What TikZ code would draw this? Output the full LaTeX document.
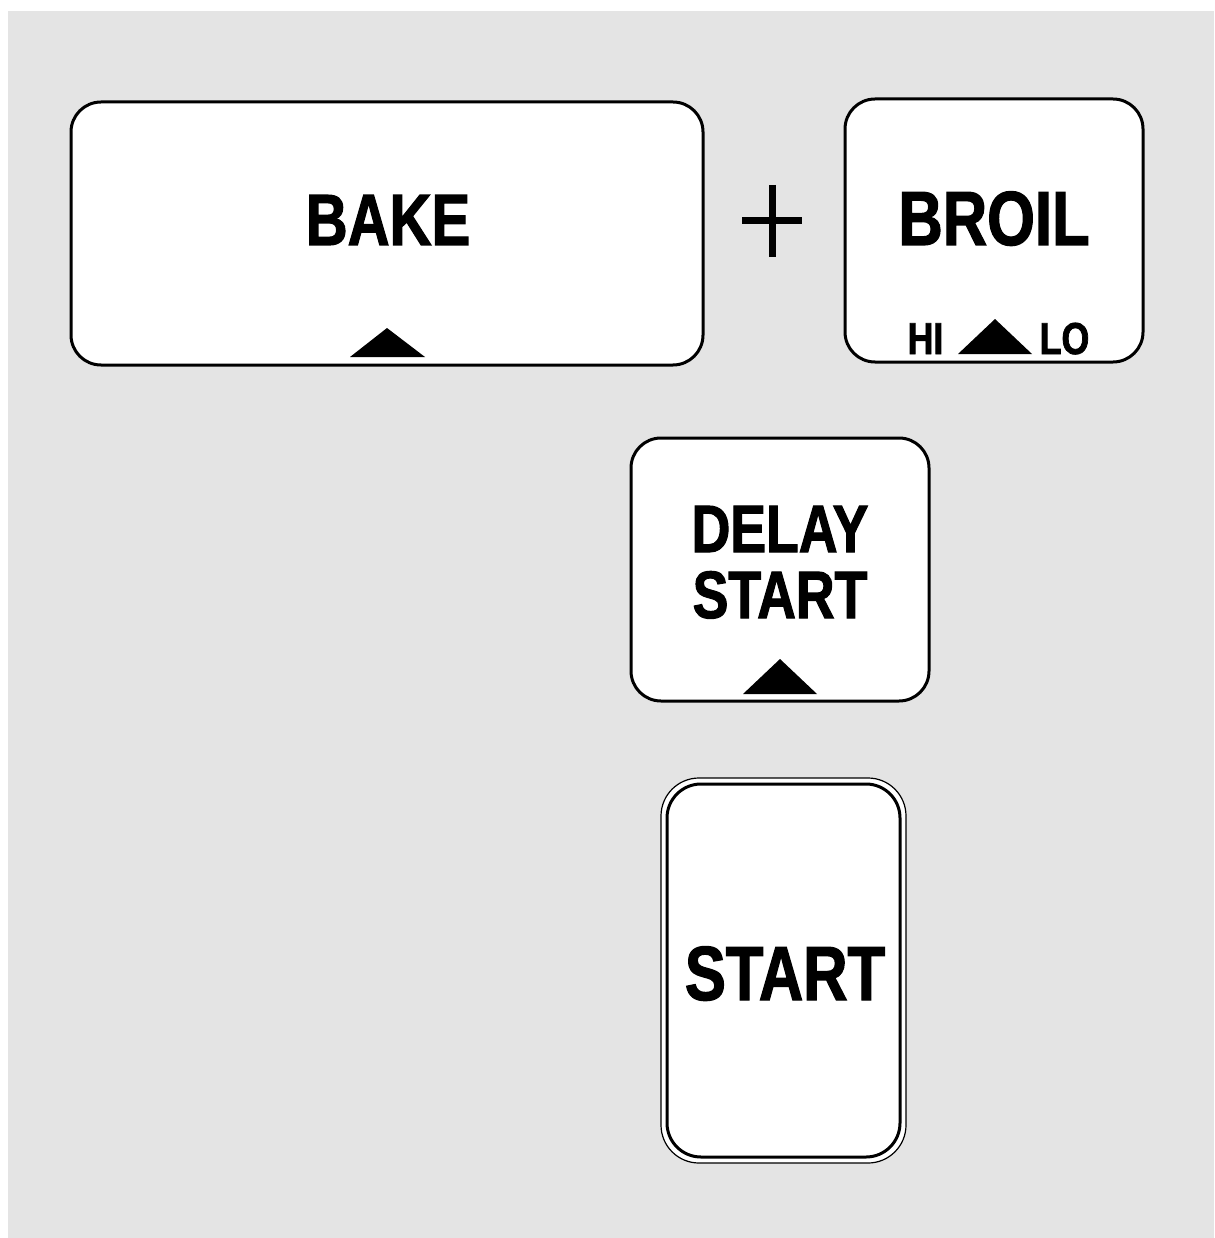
\documentclass[tikz,border=0pt]{standalone}
\usepackage{fontspec}
\setmainfont{Liberation Sans}[FakeStretch=0.8, BoldFeatures={FakeBold=1.6}]
\definecolor{bggray}{HTML}{E4E4E4}
\begin{document}
\begin{tikzpicture}[x=1pt,y=-1pt,
  btn/.style={draw=black, line width=3pt, fill=white, rounded corners=30pt, inner sep=0pt},
  lbl/.style={anchor=base, inner sep=0pt, font=\bfseries},
  tri/.style={fill=black}]
\useasboundingbox (0,0) rectangle (1214,1238);
\fill[white] (0,0) rectangle (1214,1238);
\fill[bggray] (8,11) rectangle (1214,1238);
% BAKE
\node[btn, minimum width=632pt, minimum height=263pt] (bake) at (387,233.5) {};
\node[lbl, font=\bfseries\fontsize{72.6}{80}\selectfont] (bakeT) at (388,245) {BAKE};
\fill[tri] (350,357) -- (387,328) -- (425,357) -- cycle;
% plus
\node[inner sep=0pt, minimum width=59pt, minimum height=72pt] (plus) at (772,221) {};
\draw[line width=7pt] (plus.west) -- (plus.east) (plus.north) -- (plus.south);
% BROIL
\node[btn, minimum width=298pt, minimum height=263pt] (broil) at (994,230.5) {};
\node[lbl, font=\bfseries\fontsize{76.8}{80}\selectfont] (broilT) at (994,245) {BROIL};
\node[lbl, font=\bfseries\fontsize{44.7}{50}\selectfont] (hi) at (925.5,354) {HI};
\node[lbl, font=\bfseries\fontsize{44.7}{50}\selectfont] (lo) at (1064.5,354) {LO};
\fill[tri] (958,354) -- (995,319) -- (1032,354) -- cycle;
% DELAY START
\node[btn, minimum width=298pt, minimum height=263pt] (delay) at (780,569.5) {};
\node[lbl, font=\bfseries\fontsize{67}{70}\selectfont] (delayT) at (780,552) {DELAY};
\node[lbl, font=\bfseries\fontsize{67}{70}\selectfont] (startT) at (780,618) {START};
\fill[tri] (743,694) -- (780,659) -- (817,694) -- cycle;
% START
\node[draw=black, line width=1.2pt, fill=white, rounded corners=38pt, inner sep=0pt, minimum width=245pt, minimum height=385pt] (startO) at (783.5,970.5) {};
\node[btn, rounded corners=34pt, minimum width=233pt, minimum height=373pt] (start) at (startO.center) {};
\node[lbl, font=\bfseries\fontsize{76.8}{80}\selectfont] (startL) at (785,1000) {START};
\end{tikzpicture}
\end{document}
